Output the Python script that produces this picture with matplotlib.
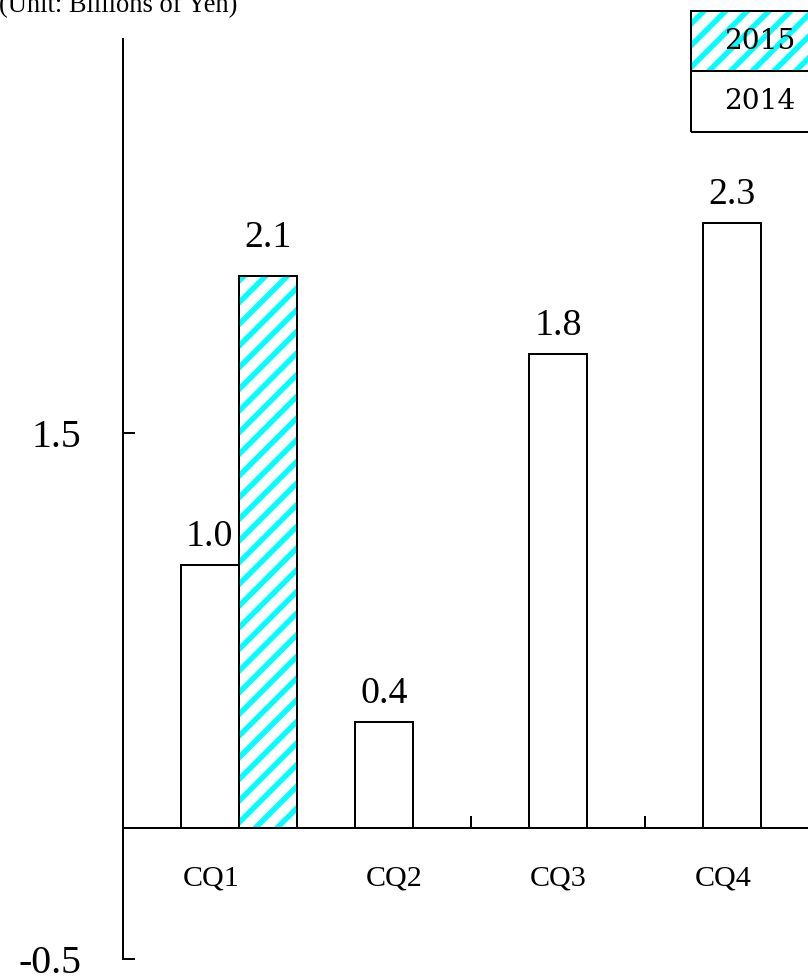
import matplotlib
matplotlib.use("Agg")
import matplotlib.pyplot as plt
from matplotlib.patches import Rectangle
import numpy as np

# Quarterly figures (billions of yen)
quarters = ["CQ1", "CQ2", "CQ3", "CQ4"]
sales_2014 = [1.0, 0.4, 1.8, 2.3]
sales_2015 = [2.1]
series_labels = ["2015", "2014"]
y_ticks = [-0.5, 1.5]
unit_note = "(Unit: Billions of Yen)"

# Styling
DPI = 130
W, H = 808, 978
SERIF = ["Liberation Serif", "DejaVu Serif"]
LEGEND_SERIF = ["DejaVu Serif"]
HATCH_COLOR = "#00FFFF"
plt.rcParams["hatch.linewidth"] = 3.0
plt.rcParams["font.family"] = SERIF

fig = plt.figure(figsize=(W / DPI, H / DPI), dpi=DPI)
ax = fig.add_axes([122.5 / W, 19 / H, 697 / W, 920 / H])

bar_w = 1 / 3
x14 = np.arange(len(sales_2014))
x15 = np.arange(len(sales_2015)) + bar_w

# 2014 bars: plain white with black outline
ax.bar(x14, sales_2014, bar_w, color="white", edgecolor="black", linewidth=1.1, zorder=3)

# 2015 bars: cyan diagonal stripes, then a black outline on top
ax.bar(x15, sales_2015, bar_w, color="white", edgecolor=HATCH_COLOR, hatch="//",
       linewidth=0, zorder=3)
ax.bar(x15, sales_2015, bar_w, fill=False, edgecolor="black", linewidth=1.1, zorder=4)

# value labels above bars (gap in points per series)
for xs, vs, gap in ((x14, sales_2014, 10.5), (x15, sales_2015, 16)):
    for x, v in zip(xs, vs):
        ax.annotate(f"{v:.1f}", (x, v), xytext=(0, gap), textcoords="offset points",
                    ha="center", va="baseline", fontsize=21)

ax.set_xlim(-0.5, len(quarters) - 0.5)
ax.set_ylim(-0.5, 3.0)

for side in ("top", "right"):
    ax.spines[side].set_visible(False)
ax.spines["bottom"].set_position(("data", 0))
for side in ("left", "bottom"):
    ax.spines[side].set_linewidth(1.1)

# x: boundary ticks between quarters, labels centred in each slot
label_shift = [0.01, 0.06, 0.0, -0.05]
ax.set_xticks(np.arange(len(quarters) + 1) - 0.5)
ax.set_xticklabels([])
ax.set_xticks(np.arange(len(quarters)) + np.array(label_shift), minor=True)
ax.set_xticklabels(quarters, minor=True, fontsize=16.6)
ax.tick_params(axis="x", which="major", direction="in", length=6.6, width=1.1)
ax.tick_params(axis="x", which="minor", length=0, pad=21)

ax.set_yticks(y_ticks)
ax.set_yticklabels([f"{t:.1f}" for t in y_ticks], fontsize=22)
ax.tick_params(axis="y", direction="in", length=6.6, width=1.1, pad=23)

# unit note in the top-left corner
fig.text(-1 / W, 1 - 12 / H, unit_note, ha="left", va="baseline", fontsize=14.7)

# legend drawn as a two-cell box
lx0, lx1 = 691 / W, 829 / W
cell_h = 60.5 / H
top = 1 - 11 / H
cells = [
    dict(facecolor="white", edgecolor=HATCH_COLOR, hatch="//", linewidth=0),
    dict(facecolor="white", edgecolor="none", linewidth=0),
]
for i, (lab, style) in enumerate(zip(series_labels, cells)):
    y0 = top - (i + 1) * cell_h
    fig.patches.append(Rectangle((lx0, y0), lx1 - lx0, cell_h, transform=fig.transFigure,
                                 figure=fig, **style))
    fig.patches.append(Rectangle((lx0, y0), lx1 - lx0, cell_h, transform=fig.transFigure,
                                 figure=fig, fill=False, edgecolor="black", linewidth=1.1))
    fig.text((lx0 + lx1) / 2, y0 + cell_h / 2, lab, ha="center", va="center",
             fontsize=15.5, family=LEGEND_SERIF)

fig.savefig("out.png", dpi=DPI)
